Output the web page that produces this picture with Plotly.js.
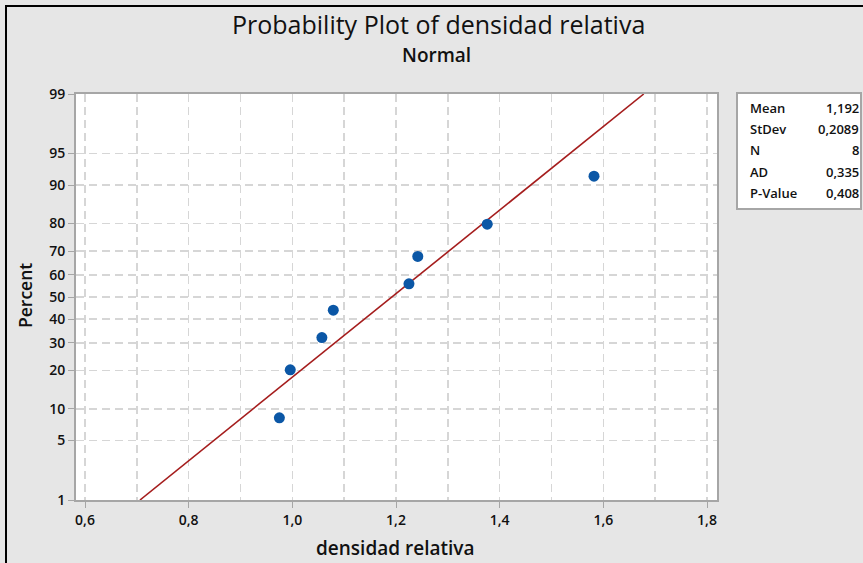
<!DOCTYPE html>
<html>
<head>
<meta charset="utf-8">
<script src="https://cdn.plot.ly/plotly-3.0.1.min.js"></script>
<style>
html,body{margin:0;padding:0;background:#e6e6e6;}
#chart{width:863px;height:563px;}
</style>
</head>
<body>
<div id="chart"></div>
<script>
// ---- data ----
var densidad = [0.975, 0.996, 1.057, 1.079, 1.225, 1.242, 1.376, 1.582];
var percent  = [8.3, 20.2, 32.1, 44.0, 56.0, 67.9, 79.8, 91.7];
var fitMean = 1.192;
var fitStDev = 0.2089;
var fitPercent = [1, 99];
var xTickVals = [0.6, 0.8, 1.0, 1.2, 1.4, 1.6, 1.8];
var xTickText = ['0,6', '0,8', '1,0', '1,2', '1,4', '1,6', '1,8'];
var yTickPercent = [1, 5, 10, 20, 30, 40, 50, 60, 70, 80, 90, 95, 99];
var yTickText = ['1', '5', '10', '20', '30', '40', '50', '60', '70', '80', '90', '95', '99'];
var statLabels = ['Mean', 'StDev', 'N', 'AD', 'P-Value'];
var statValues = ['1,192', '0,2089', '8', '0,335', '0,408'];

// inverse standard normal CDF (Acklam) for the probability scale
function probit(p) {
  var a = [-3.969683028665376e+01, 2.209460984245205e+02, -2.759285104469687e+02, 1.383577518672690e+02, -3.066479806614716e+01, 2.506628277459239e+00];
  var b = [-5.447609879822406e+01, 1.615858368580409e+02, -1.556989798598866e+02, 6.680131188771972e+01, -1.328068155288572e+01];
  var c = [-7.784894002430293e-03, -3.223964580411365e-01, -2.400758277161838e+00, -2.549732539343734e+00, 4.374664141464968e+00, 2.938163982698783e+00];
  var d = [7.784695709041462e-03, 3.224671290700398e-01, 2.445134137142996e+00, 3.754408661907416e+00];
  var pl = 0.02425, q, r;
  if (p < pl) {
    q = Math.sqrt(-2 * Math.log(p));
    return (((((c[0]*q+c[1])*q+c[2])*q+c[3])*q+c[4])*q+c[5]) / ((((d[0]*q+d[1])*q+d[2])*q+d[3])*q+1);
  } else if (p <= 1 - pl) {
    q = p - 0.5; r = q * q;
    return (((((a[0]*r+a[1])*r+a[2])*r+a[3])*r+a[4])*r+a[5])*q / (((((b[0]*r+b[1])*r+b[2])*r+b[3])*r+b[4])*r+1);
  } else {
    q = Math.sqrt(-2 * Math.log(1 - p));
    return -(((((c[0]*q+c[1])*q+c[2])*q+c[3])*q+c[4])*q+c[5]) / ((((d[0]*q+d[1])*q+d[2])*q+d[3])*q+1);
  }
}
function z(pct) { return probit(pct / 100); }

var fitZ = fitPercent.map(z);
var fitX = fitZ.map(function (v) { return fitMean + v * fitStDev; });

var W = 863, H = 563;
var L = 76, R = 146, T = 94, B = 63;
var PW = W - L - R, PH = H - T - B;
function px(x) { return (x - L) / PW; }
function py(y) { return (H - B - y) / PH; }

var FONT = 'Open Sans, Noto Sans, sans-serif';

var traces = [
  {
    x: fitX, y: fitZ, type: 'scatter', mode: 'lines',
    line: {color: '#a51d1d', width: 1.6},
    hoverinfo: 'skip', showlegend: false
  },
  {
    x: densidad, y: percent.map(z), type: 'scatter', mode: 'markers',
    marker: {color: '#0b57a6', size: 11},
    showlegend: false
  }
];

var annotations = [
  {text: 'Probability Plot of densidad relativa', x: px(438), y: py(24), xref: 'paper', yref: 'paper',
   showarrow: false, xanchor: 'center', yanchor: 'middle', font: {family: FONT, size: 25, color: '#111', weight: 500}},
  {text: 'Normal', x: px(436), y: py(55), xref: 'paper', yref: 'paper',
   showarrow: false, xanchor: 'center', yanchor: 'middle', font: {family: FONT, size: 19, color: '#111', weight: 600}},
  {text: 'Percent', x: px(25), y: py(296), xref: 'paper', yref: 'paper', textangle: -90,
   showarrow: false, xanchor: 'center', yanchor: 'middle', font: {family: FONT, size: 17.5, color: '#111', weight: 600}},
  {text: 'densidad relativa', x: px(395), y: py(548), xref: 'paper', yref: 'paper',
   showarrow: false, xanchor: 'center', yanchor: 'middle', font: {family: FONT, size: 19, color: '#111', weight: 600}}
];
var rowY = [108, 129, 150, 172, 193];
for (var i = 0; i < statLabels.length; i++) {
  annotations.push({text: statLabels[i], x: px(748), y: py(rowY[i]), xref: 'paper', yref: 'paper',
    showarrow: false, xanchor: 'left', yanchor: 'middle', font: {family: FONT, size: 13, color: '#111', weight: 600}});
  annotations.push({text: statValues[i], x: px(861), y: py(rowY[i]), xref: 'paper', yref: 'paper',
    showarrow: false, xanchor: 'right', yanchor: 'middle', font: {family: FONT, size: 13, color: '#111', weight: 600}});
}

var shapes = [
  {type: 'rect', xref: 'paper', yref: 'paper', x0: px(737), x1: px(861), y0: py(209), y1: py(93),
   fillcolor: '#ffffff', line: {color: '#a6a6a6', width: 2}, layer: 'below'},
  {type: 'rect', xref: 'paper', yref: 'paper', x0: px(6), x1: px(900), y0: py(600), y1: py(6),
   fillcolor: 'rgba(0,0,0,0)', line: {color: '#000000', width: 2}}
];

var gridCol = '#d6d6d6';
var tickFont = {family: FONT, size: 14, color: '#111', weight: 600};
var layout = {
  width: W, height: H,
  margin: {l: L, r: R, t: T, b: B, pad: 0},
  paper_bgcolor: '#e6e6e6', plot_bgcolor: '#ffffff',
  showlegend: false,
  xaxis: {
    range: [0.6 - 9 / 518.3, 1.8 + 10 / 518.3],
    tickmode: 'array', tickvals: xTickVals, ticktext: xTickText,
    ticks: 'outside', ticklen: 6, tickcolor: '#a6a6a6', tickwidth: 1,
    showline: true, linecolor: '#a6a6a6', linewidth: 2, mirror: true,
    showgrid: true, gridcolor: gridCol, gridwidth: 1.5, griddash: '8px,5px',
    minor: {tick0: 0.6, dtick: 0.1, showgrid: true, gridcolor: gridCol, gridwidth: 1.5, griddash: '8px,5px', ticks: ''},
    zeroline: false,
    tickfont: tickFont
  },
  yaxis: {
    range: [z(1), z(99)],
    tickmode: 'array', tickvals: yTickPercent.map(z), ticktext: yTickText,
    ticks: 'outside', ticklen: 6, tickcolor: '#a6a6a6', tickwidth: 1,
    showline: true, linecolor: '#a6a6a6', linewidth: 2, mirror: true,
    showgrid: true, gridcolor: gridCol, gridwidth: 1.5, griddash: '8px,5px',
    zeroline: false,
    tickfont: tickFont
  },
  annotations: annotations,
  shapes: shapes
};

Plotly.newPlot('chart', traces, layout, {displayModeBar: false, staticPlot: true});
</script>
</body>
</html>
